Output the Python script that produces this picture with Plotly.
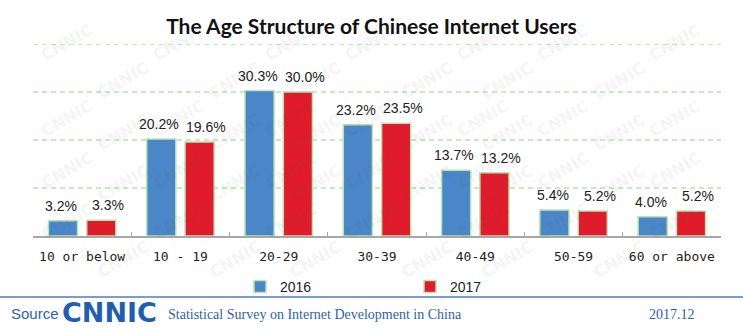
import plotly.graph_objects as go

# Age groups and share of internet users (%)
age_groups = ["10 or below", "10 - 19", "20-29", "30-39", "40-49", "50-59", "60 or above"]
share_2016 = [3.2, 20.2, 30.3, 23.2, 13.7, 5.4, 4.0]
share_2017 = [3.3, 19.6, 30.0, 23.5, 13.2, 5.2, 5.2]
series_names = ["2016", "2017"]

BLUE = "#4a86c8"
RED = "#e01b2b"
OUTLINE = "#b9e4b3"
GRID = "#86dc80"

W, H = 743, 329
ML, MR, MT, MB = 33, 22, 44, 93
PW = W - ML - MR
PH = H - MT - MB


def px_x(px):
    return (px - ML) / PW


def px_y(py):
    return (H - MB - py) / PH


fig = go.Figure()
for name, vals, col in [(series_names[0], share_2016, BLUE), (series_names[1], share_2017, RED)]:
    fig.add_trace(go.Bar(
        name=name, x=age_groups, y=vals,
        marker=dict(color=col, line=dict(color=OUTLINE, width=1.5)),
        hoverinfo="x+y",
    ))

annotations = []

# faint diagonal watermark tiles, kept inside the canvas
for r in range(0, 9):
    y = 18 + r * 38
    for c in range(-1, 8):
        x = 35 + c * 112 + (r % 2) * 56
        if 32 <= x <= W - 32 and 14 <= y <= H - 14:
            annotations.append(dict(
                x=px_x(x), y=px_y(y), xref="paper", yref="paper", text="CNNIC",
                showarrow=False, textangle=-30,
                font=dict(family="DejaVu Sans", size=16, color="rgba(90,90,90,0.08)", weight="bold"),
            ))

# value labels above each bar
for vals, shift in [(share_2016, -21), (share_2017, 26)]:
    for cat, v in zip(age_groups, vals):
        annotations.append(dict(
            x=cat, y=v, xref="x", yref="y", text=f"{v:.1f}%",
            showarrow=False, xshift=shift, yshift=15,
            font=dict(family="Liberation Sans, Arial", size=14, color="#222222"),
        ))

# footer
annotations += [
    dict(x=px_x(9), y=px_y(313), xref="paper", yref="paper", xanchor="left", yanchor="middle",
         text="Source", showarrow=False,
         font=dict(family="Liberation Sans, Arial", size=15, color="#2e63b3")),
    dict(x=px_x(60), y=px_y(312), xref="paper", yref="paper", xanchor="left", yanchor="middle",
         text="CNNIC", showarrow=False,
         font=dict(family="DejaVu Sans", size=27, color="#1f5fae", weight="bold")),
    dict(x=px_x(166), y=px_y(314), xref="paper", yref="paper", xanchor="left", yanchor="middle",
         text="Statistical Survey on Internet Development in China", showarrow=False,
         font=dict(family="Liberation Serif, Times New Roman", size=14, color="#2f5faa")),
    dict(x=px_x(647), y=px_y(314), xref="paper", yref="paper", xanchor="left", yanchor="middle",
         text="2017.12", showarrow=False,
         font=dict(family="Liberation Serif, Times New Roman", size=14, color="#2f5faa")),
]

# dashed horizontal guides at 10/20/30/40 %, drawn as y-referenced shapes
grid_levels = [10, 20, 30, 40]
shapes = [dict(type="line", xref="paper", yref="y", x0=0, x1=1, y0=g, y1=g, layer="below",
               line=dict(color=GRID, width=1, dash="5px,4px")) for g in grid_levels]
shapes.append(dict(type="line", xref="paper", yref="paper",
                   x0=px_x(0), x1=px_x(W), y0=px_y(297), y1=px_y(297),
                   line=dict(color="#4a7cc7", width=1.5)))

fig.update_layout(
    width=W, height=H,
    margin=dict(l=ML, r=MR, t=MT, b=MB),
    paper_bgcolor="white", plot_bgcolor="white",
    barmode="group", bargap=0.22, bargroupgap=0.24,
    title=dict(text="<b>The Age Structure of Chinese Internet Users</b>",
               x=0.5, xanchor="center", y=1 - 27 / H, yanchor="middle",
               font=dict(family="Lato", size=21, color="#111111")),
    xaxis=dict(
        showline=True, linecolor="#a6a6a6", linewidth=1.5,
        ticks="inside", tickson="boundaries", ticklen=4, tickcolor="#a6a6a6",
        tickfont=dict(family="DejaVu Sans Mono", size=13, color="#222222"),
        ticklabelstandoff=8, showgrid=False, fixedrange=True,
    ),
    yaxis=dict(
        range=[0, 40], showticklabels=False, showgrid=False,
        zeroline=False, showline=False, fixedrange=True,
    ),
    legend=dict(orientation="h", x=px_x(240), xanchor="left", y=px_y(287), yanchor="middle",
                entrywidth=125, entrywidthmode="pixels", itemwidth=30,
                font=dict(family="Liberation Sans, Arial", size=14, color="#222222"),
                bgcolor="rgba(0,0,0,0)"),
    shapes=shapes,
    annotations=annotations,
    showlegend=True,
)

fig.write_html("out.html")
